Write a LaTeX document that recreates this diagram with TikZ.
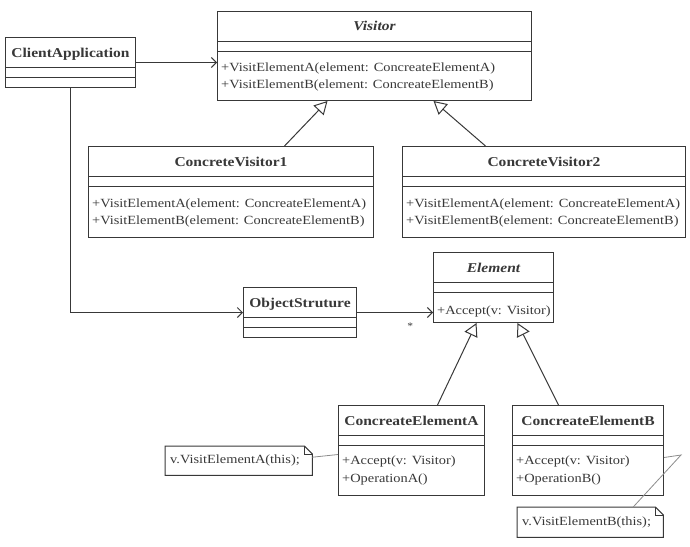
\documentclass[tikz,border=0pt]{standalone}
\usepackage{fontspec}
\setmainfont{Liberation Serif}[FakeStretch=1.15]
\usetikzlibrary{
  arrows.meta,
  positioning
}
\definecolor{umlgray}{gray}{0.22}
\definecolor{notegray}{gray}{0.55}
\tikzset{
  % styles
  class/.style={
    draw=umlgray,
    line width=1pt,
    fill=white,
    anchor=north west,
    inner sep=0pt,
  },
  classname/.style={
    anchor=base,
    inner sep=0pt,
    text=umlgray,
    font=\fontsize{13.5}{16}\selectfont\bfseries,
  },
  abstractname/.style={
    classname,
    font=\fontsize{13.5}{16}\selectfont\bfseries\itshape,
  },
  member/.style={
    anchor=base west,
    inner sep=0pt,
    text=umlgray,
    font=\fontsize{12.5}{15}\selectfont,
  },
  notebox/.style={
    draw=umlgray,
    line width=1pt,
  },
  noteline/.style={
    draw=notegray,
    line width=0.8pt,
  },
  assoc/.style={
    draw=umlgray,
    line width=1pt,
    -{Straight Barb[length=5pt,width=10pt]},
  },
  inherit/.style={
    draw=umlgray,
    line width=1pt,
    -{Triangle[open,length=13pt,width=14pt,fill=white]},
  }
}

\begin{document}
\begin{tikzpicture}[x=1pt,y=-1pt]
  \useasboundingbox (0,0) rectangle (690,546);

  % classes
  \node [class, minimum width=130pt, minimum height=50pt] (client)  at (5,37)    {};
  \node [class, minimum width=314pt, minimum height=89pt] (visitor) at (217,11)  {};
  \node [class, minimum width=285pt, minimum height=91pt] (cv1)     at (88,146)  {};
  \node [class, minimum width=283pt, minimum height=91pt] (cv2)     at (402,146) {};
  \node [class, minimum width=120pt, minimum height=70pt] (element) at (433,252) {};
  \node [class, minimum width=113pt, minimum height=50pt] (objs)    at (243,287) {};
  \node [class, minimum width=146pt, minimum height=90pt] (elemA)   at (338,405) {};
  \node [class, minimum width=151pt, minimum height=90pt] (elemB)   at (512,405) {};

  % compartments
  \foreach \c in {client,visitor,cv1,cv2,element,objs,elemA,elemB}
    \foreach \d in {30pt,40pt}
      \draw [umlgray, line width=1pt]
        ([yshift=-\d]\c.north west) -- ([yshift=-\d]\c.north east);

  % names
  \foreach \c/\t in {client/ClientApplication, cv1/ConcreteVisitor1,
                     cv2/ConcreteVisitor2, objs/ObjectStruture,
                     elemA/ConcreateElementA, elemB/ConcreateElementB}
    \node [classname] (\c-name) at ([yshift=-20pt]\c.north) {\t};
  \node [abstractname] (visitor-name) at ([yshift=-19pt]visitor.north) {Visitor};
  \node [abstractname] (element-name) at ([yshift=-20pt]element.north) {Element};

  % operations
  \node [member] (visitor-m1) at ([xshift=4pt,yshift=-60pt]visitor.north west)
    {+VisitElementA(element: ConcreateElementA)};
  \node [member] (visitor-m2) at ([xshift=4pt,yshift=-77pt]visitor.north west)
    {+VisitElementB(element: ConcreateElementB)};
  \node [member] (cv1-m1) at ([xshift=4pt,yshift=-61pt]cv1.north west)
    {+VisitElementA(element: ConcreateElementA)};
  \node [member] (cv1-m2) at ([xshift=4pt,yshift=-78pt]cv1.north west)
    {+VisitElementB(element: ConcreateElementB)};
  \node [member] (cv2-m1) at ([xshift=4pt,yshift=-61pt]cv2.north west)
    {+VisitElementA(element: ConcreateElementA)};
  \node [member] (cv2-m2) at ([xshift=4pt,yshift=-78pt]cv2.north west)
    {+VisitElementB(element: ConcreateElementB)};
  \node [member] (element-m1) at ([xshift=4pt,yshift=-62pt]element.north west)
    {+Accept(v: Visitor)};
  \node [member] (elemA-m1) at ([xshift=4pt,yshift=-59pt]elemA.north west)
    {+Accept(v: Visitor)};
  \node [member] (elemA-m2) at ([xshift=4pt,yshift=-77pt]elemA.north west)
    {+OperationA()};
  \node [member] (elemB-m1) at ([xshift=4pt,yshift=-59pt]elemB.north west)
    {+Accept(v: Visitor)};
  \node [member] (elemB-m2) at ([xshift=4pt,yshift=-77pt]elemB.north west)
    {+OperationB()};

  % notes
  \node [anchor=north west, minimum width=147pt, minimum height=29pt] (noteA) at (165,446) {};
  \node [anchor=north west, minimum width=146pt, minimum height=30pt] (noteB) at (517,507) {};
  \foreach \n in {noteA,noteB} {
    \draw [notebox] (\n.north west) -- ([xshift=-8pt]\n.north east)
      -- ([yshift=-8pt]\n.north east) -- (\n.south east) -- (\n.south west) -- cycle;
    \draw [notebox] ([xshift=-8pt]\n.north east) |- ([yshift=-8pt]\n.north east);
  }
  \node [member, anchor=west] (noteA-text) at ([xshift=5pt]noteA.west) {v.VisitElementA(this);};
  \node [member, anchor=west] (noteB-text) at ([xshift=5pt]noteB.west) {v.VisitElementB(this);};

  % connectors
  \draw [assoc] (client.east) -- (client.east -| visitor.west);
  \draw [assoc] (client.south) |- (objs.west);
  \draw [assoc] (objs.east) -- (objs.east -| element.west)
    node [pos=0.7, yshift=-14pt, text=umlgray] (many) {*};

  \draw [inherit] ([xshift=53.5pt]cv1.north) -- ([xshift=-47pt]visitor.south);
  \draw [inherit] ([xshift=-58.5pt]cv2.north) -- ([xshift=59pt]visitor.south);
  \draw [inherit] ([xshift=26pt]elemA.north) -- ([xshift=-17pt]element.south);
  \draw [inherit] ([xshift=-29.5pt]elemB.north) -- ([xshift=24pt]element.south);

  \draw [noteline] ([yshift=3.5pt]noteA.east) -- ([yshift=-4pt]elemA.west);
  \coordinate (noteB-bend) at (681,455);
  \draw [noteline] ([yshift=-7pt]elemB.east) -- (noteB-bend) -- ([xshift=43pt]noteB.north);
\end{tikzpicture}
\end{document}
